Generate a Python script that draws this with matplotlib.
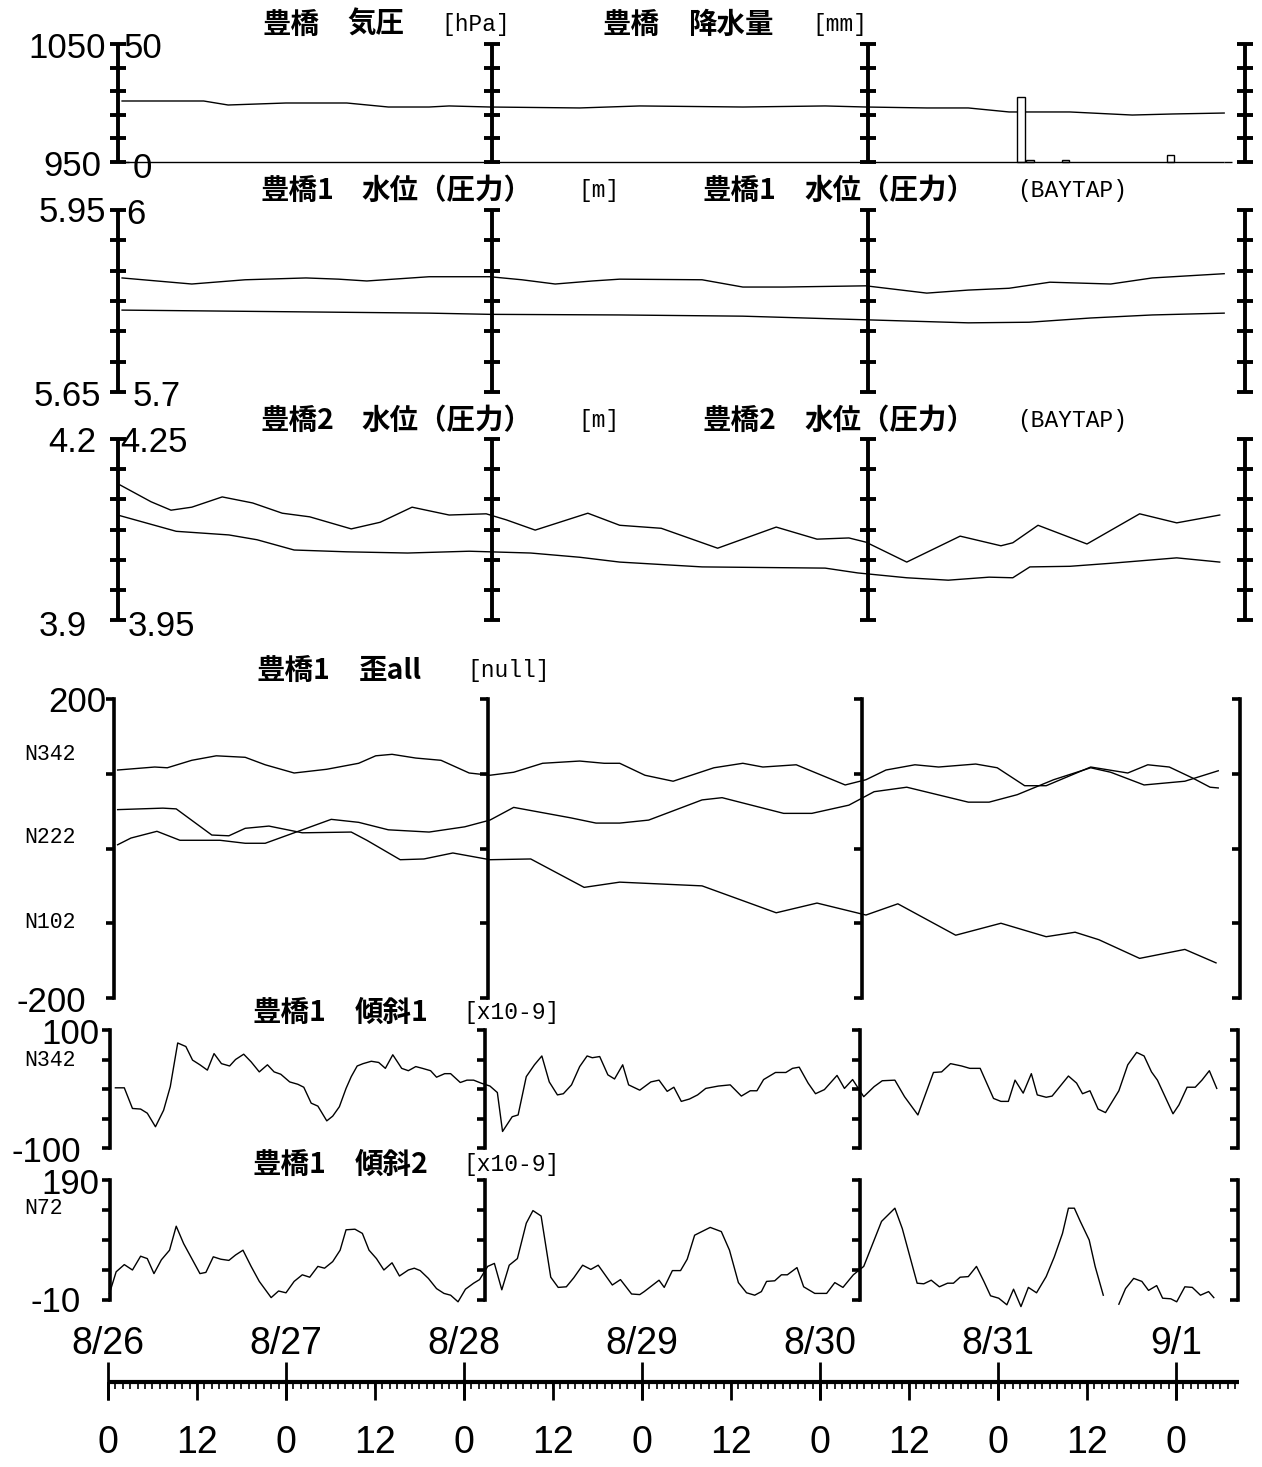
import matplotlib
matplotlib.use("Agg")
import matplotlib.pyplot as plt
import numpy as np

W, H = 1262, 1467
CJK = 'Noto Sans CJK JP'
MONO = 'Liberation Mono'
SANS = 'Liberation Sans'

# time in hours from 8/26 0:00
# 豊橋 気圧 [hPa]
pres_h = [1.9, 12.9, 16.2, 24.0, 32.2, 37.8, 43.3, 46.0, 51.5, 63.6, 71.7, 85.6, 96.7,
          102.2, 110.4, 116.0, 121.5, 129.7, 138.1, 143.6, 150.5]
pres = [1001.7, 1001.7, 998.3, 1000.0, 1000.0, 996.6, 996.6, 997.5, 996.6, 995.8, 997.5,
        996.6, 997.5, 996.6, 995.8, 995.8, 992.4, 992.4, 989.8, 990.7, 991.5]

# 豊橋 降水量 [mm]
rain_h = [1.9, 122.6, 123.8, 128.6, 142.8, 150.5]
rain = [0, 27.5, 1, 0.7, 3, 0]

# 豊橋1 水位（圧力） [m] / (BAYTAP)
wl1_h = [1.9, 11.3, 18.5, 26.7, 31.1, 34.9, 43.3, 51.5, 55.8, 60.3, 65.3, 69.0, 80.1,
         85.6, 91.1, 102.2, 110.4, 116.0, 121.5, 127.0, 135.2, 140.8, 150.5]
wl1 = [5.838, 5.828, 5.835, 5.838, 5.836, 5.833, 5.840, 5.840, 5.835, 5.828, 5.833, 5.836,
       5.835, 5.823, 5.823, 5.825, 5.813, 5.818, 5.821, 5.831, 5.828, 5.838, 5.845]
wl1b_h = [1.9, 18.5, 43.3, 51.5, 69.0, 85.6, 102.2, 116.0, 124.2, 132.5, 140.8, 150.5]
wl1b = [5.835, 5.833, 5.830, 5.828, 5.827, 5.825, 5.819, 5.814, 5.815, 5.822, 5.827, 5.830]

# 豊橋2 水位（圧力） [m] / (BAYTAP)
wl2_h = [1.6, 5.8, 8.5, 11.3, 15.4, 19.5, 23.5, 27.2, 32.8, 36.7, 41.0, 46.0, 51.0, 53.7,
         57.6, 64.7, 69.0, 74.6, 82.2, 90.1, 95.6, 99.9, 102.2, 107.7, 114.9, 120.4, 122.0,
         125.4, 132.0, 139.1, 144.1, 149.9]
wl2 = [4.124, 4.096, 4.082, 4.087, 4.104, 4.094, 4.077, 4.071, 4.051, 4.062, 4.087, 4.074,
       4.076, 4.066, 4.049, 4.077, 4.057, 4.052, 4.019, 4.054, 4.034, 4.036, 4.029, 3.996,
       4.039, 4.023, 4.028, 4.057, 4.026, 4.076, 4.061, 4.074]
wl2b_h = [1.3, 9.2, 16.3, 20.1, 25.1, 32.2, 40.4, 48.7, 57.0, 63.6, 69.0, 80.1, 96.7, 101.1,
          107.7, 113.3, 118.8, 122.0, 124.3, 129.7, 135.2, 144.1, 149.9]
wl2b = [4.124, 4.097, 4.091, 4.083, 4.066, 4.063, 4.061, 4.064, 4.061, 4.054, 4.046, 4.038,
        4.036, 4.028, 4.020, 4.016, 4.021, 4.020, 4.038, 4.039, 4.044, 4.053, 4.046]

# 豊橋1 歪all
sa_h = [1.3, 6.3, 8.0, 11.3, 14.6, 18.5, 21.2, 25.1, 29.5, 33.8, 36.1, 38.3, 41.5, 44.9,
        48.7, 51.5, 54.7, 58.6, 63.6, 66.9, 69.0, 72.4, 76.2, 81.7, 85.6, 88.3, 92.8, 99.4,
        102.2, 104.9, 108.8, 112.0, 117.0, 119.9, 123.6, 126.5, 132.5, 137.5, 140.2, 143.1,
        146.3, 148.6, 149.7]
sa = [105, 109, 108, 118, 124, 122, 112, 101, 106, 114, 124, 126, 121, 118, 101, 98, 102,
      114, 117, 114, 114, 98, 90, 108, 114, 109, 112, 85, 92, 105, 112, 109, 113, 108, 84,
      84, 109, 101, 112, 109, 94, 82, 81]
sb_h = [1.3, 7.4, 9.2, 14.0, 16.3, 18.5, 21.7, 26.2, 32.8, 34.9, 39.4, 42.6, 46.5, 51.5,
        57.0, 64.2, 69.0, 80.1, 90.1, 95.6, 102.2, 106.5, 114.3, 120.4, 126.5, 130.4, 133.6,
        139.1, 145.2, 149.4]
sb = [52, 54, 53, 18, 17, 27, 30, 21, 22, 11, -15, -14, -6, -15, -14, -52, -45, -50, -86,
      -73, -89, -74, -116, -100, -118, -112, -122, -147, -135, -153]
sc_h = [1.3, 3.1, 6.6, 9.7, 15.1, 18.5, 21.2, 25.1, 30.1, 33.8, 37.8, 43.3, 48.1, 51.5,
        54.7, 62.4, 65.8, 69.0, 72.9, 80.1, 82.8, 91.1, 94.9, 99.9, 103.3, 107.7, 116.0,
        118.8, 122.6, 127.5, 132.5, 135.2, 139.7, 145.2, 149.7]
sc = [5, 14, 23, 11, 11, 7, 7, 21, 39, 35, 25, 22, 29, 38, 55, 41, 34, 34, 38, 65, 68, 47,
      47, 58, 76, 82, 62, 62, 72, 92, 108, 102, 85, 90, 104]

# 豊橋1 傾斜1 [x10-9]
t1_h = [1.0, 2.2, 3.3, 4.4, 5.3, 6.4, 7.5, 8.4, 9.4, 10.5, 11.4, 12.4, 13.4, 14.3, 15.3,
        16.4, 17.2, 18.3, 19.3, 20.4, 21.5, 22.4, 23.3, 24.5, 25.6, 26.4, 27.4, 28.3, 29.5,
        30.3, 31.2, 32.1, 32.8, 33.6, 34.4, 35.5, 36.5, 37.4, 38.4, 39.6, 40.5, 41.5, 42.4,
        43.5, 44.3, 45.4, 46.2, 47.5, 48.4, 49.3, 50.3, 51.5, 52.5, 53.2, 54.5, 55.3, 56.4,
        57.5, 58.5, 59.5, 60.6, 61.4, 62.5, 63.6, 64.6, 65.3, 66.3, 67.4, 68.3, 69.4, 70.2,
        71.7, 73.2, 74.3, 75.4, 76.3, 77.3, 78.4, 79.5, 80.6, 82.3, 83.9, 85.4, 86.6, 87.5,
        88.4, 90.0, 91.4, 92.3, 93.2, 94.4, 95.4, 96.6, 98.3, 99.3, 100.4, 101.9, 103.3,
        104.4, 106.1, 107.4, 109.2, 111.3, 112.4, 113.6, 115.1, 116.2, 117.6, 119.4, 120.4,
        121.4, 122.3, 123.4, 124.5, 125.3, 126.5, 127.3, 128.4, 129.5, 130.6, 131.4, 132.4,
        133.5, 134.5, 136.3, 137.5, 138.7, 139.7, 140.7, 141.5, 143.6, 144.4, 145.5, 146.6,
        147.5, 148.5, 149.5]
t1 = [2, 2, -33, -34, -41, -64, -36, 4, 78, 72, 49, 41, 32, 60, 43, 39, 50, 59, 46, 29,
      41, 29, 25, 12, 8, 3, -24, -29, -54, -46, -30, 1, 21, 39, 43, 47, 45, 35, 58, 35,
      31, 38, 35, 31, 20, 26, 26, 11, 15, 15, 10, 5, -6, -72, -47, -44, 21, 41, 56, 12,
      -10, -8, 7, 38, 56, 53, 55, 24, 17, 41, 7, -2, 12, 15, -4, 3, -21, -17, -10, 1,
      5, 7, -12, -3, -3, 16, 28, 28, 35, 37, 10, -8, -1, 23, 1, 16, -13, 4, 14, 15,
      -13, -44, 28, 29, 43, 39, 35, 35, -16, -21, -21, 15, -7, 26, -10, -14, -12, 5, 22, 10,
      -8, -3, -34, -40, -3, 41, 62, 56, 29, 15, -42, -27, 3, 3, 15, 31, 1]

# 豊橋1 傾斜2 [x10-9]  (nan = missing)
t2_h = [0.2, 1.1, 2.2, 3.3, 4.4, 5.3, 6.2, 7.2, 8.3, 9.2, 10.2, 11.3, 12.4, 13.2, 14.2,
        15.2, 16.3, 17.2, 18.2, 19.3, 20.4, 22.0, 23.0, 24.0, 25.1, 26.2, 27.2, 28.3, 29.2,
        30.3, 31.3, 32.1, 33.3, 34.3, 35.2, 36.2, 37.2, 38.3, 39.3, 40.5, 41.3, 42.1, 43.2,
        44.3, 45.3, 46.2, 47.2, 48.2, 49.3, 50.1, 51.2, 52.1, 53.1, 54.1, 55.2, 56.4, 57.3,
        58.4, 59.7, 60.7, 61.8, 62.8, 64.0, 65.1, 66.1, 67.2, 68.0, 69.1, 70.6, 71.7, 72.3,
        74.3, 75.0, 76.1, 77.2, 78.1, 79.1, 81.2, 82.7, 83.8, 85.0, 86.1, 87.2, 88.1, 88.8,
        89.9, 90.8, 91.6, 92.9, 93.8, 95.3, 96.9, 98.0, 99.1, 100.5, 101.9, 104.3, 106.1,
        107.1, 108.0, 109.1, 110.0, 111.0, 112.1, 113.2, 114.0, 114.9, 116.0, 117.1, 118.1,
        119.0, 120.1, 121.2, 122.1, 123.1, 124.1, 125.2, 126.5, 127.6, 128.7, 129.5, 130.3,
        131.1, 132.3, 133.1, 134.2, 135.2, 136.3, 137.2, 138.3, 139.4, 140.3, 141.4, 142.2,
        143.3, 144.1, 145.2, 146.2, 147.3, 148.4, 149.1]
t2 = [1, 37, 49, 40, 63, 59, 34, 57, 73, 113, 84, 59, 34, 36, 62, 58, 56, 65, 73, 46,
      21, -6, 5, 2, 21, 32, 28, 46, 43, 54, 73, 107, 108, 101, 73, 59, 40, 52, 30, 40,
      43, 39, 26, 9, 1, -2, -13, 8, 18, 24, 46, 51, 7, 48, 59, 118, 139, 130, 28, 11,
      12, 27, 48, 41, 48, 29, 15, 24, 0, -1, 4, 23, 11, 39, 39, 58, 98, 111, 104, 73,
      19, 2, -2, 4, 21, 22, 32, 32, 44, 12, 1, 1, 19, 11, 32, 46, 121, 143, 109, 68,
      18, 17, 23, 12, 18, 18, 28, 29, 46, 21, -3, -7, -18, 8, -21, 11, 2, 29, 62, 101,
      143, 143, 121, 90, 46, -2, np.nan, -17, 9, 26, 21, 6, 14, -7, -8, -13, 12, 11, -2, 4,
      -6]

day_h = [0, 24, 48, 72, 96, 120, 144]
day_labels = ['8/26', '8/27', '8/28', '8/29', '8/30', '8/31', '9/1']
hour_h = [0, 12, 24, 36, 48, 60, 72, 84, 96, 108, 120, 132, 144]
hour_labels = ['0', '12', '0', '12', '0', '12', '0', '12', '0', '12', '0', '12', '0']

fig = plt.figure(figsize=(W / 100, H / 100), dpi=100)
XL = (-14.56, 155.6)
LW = 1.0
CFS = 20.5   # CJK title size
MFS = 16.5   # mono title size


def pax(top, bot, ylim):
    ax = fig.add_axes([0, 1 - bot / H, 1, (bot - top) / H])
    ax.set_xlim(*XL)
    ax.set_ylim(*ylim)
    ax.set_axis_off()
    return ax


def ftext(x, y, s, **kw):
    fig.text(x / W, 1 - y / H, s, **kw)


def ibars(ax, xs, n):
    lo, hi = ax.get_ylim()
    ticks = np.linspace(lo, hi, n)
    for x in xs:
        ax.plot([x, x], [lo, hi], color='k', lw=2.8, solid_capstyle='butt', clip_on=False)
        ax.plot([x] * n, ticks, ls='none', marker='_', ms=11, mew=2.8, color='k', clip_on=False)


def rbars(ax, xs, n):
    lo, hi = ax.get_ylim()
    ticks = np.linspace(lo, hi, n)
    for x in xs:
        ax.plot([x, x], [lo, hi], color='k', lw=2.6, solid_capstyle='projecting', clip_on=False)
        ax.plot([x] * n, ticks, ls='none', marker=0, ms=6, mew=2.6, color='k', clip_on=False)


def title(y, parts):
    for x, s, fam in parts:
        cjk = fam == CJK
        ftext(x, y, s, family=fam, fontsize=CFS if cjk else MFS, va='center', ha='left',
              weight='bold' if cjk else 'normal')


def num(x, y, s, ha, fs=25):
    ftext(x, y, s, family=SANS, fontsize=fs, va='center', ha=ha)


def nlab(y, s):
    ftext(24, y, s, family=MONO, fontsize=15.5, va='center', ha='left')


# panel 1: pressure + rain
ax1 = pax(44, 162, (950, 1050))
ax1b = pax(44, 162, (0, 50))
ax1.plot(pres_h, pres, color='k', lw=LW)
ax1b.bar(rain_h, rain, width=1.0, align='edge', facecolor='white', edgecolor='k', lw=1.0,
         clip_on=False)
ax1b.hlines(0, rain_h[0], rain_h[-1], color='k', lw=LW, clip_on=False)
ibars(ax1, [1.3, 51.8, 102.5, 153.3], 6)
title(25, [(262, '豊橋', CJK), (347, '気圧', CJK), (441, '[hPa]', MONO),
           (602, '豊橋', CJK), (689, '降水量', CJK), (812, '[mm]', MONO)])
num(106, 48, '1050', 'right'); num(124, 48, '50', 'left')
num(101, 166, '950', 'right'); num(133, 168, '0', 'left')

# panel 2: water level 1
ax2 = pax(210, 392, (5.65, 5.95))
ax2b = pax(210, 392, (5.7, 6.0))
ax2.plot(wl1_h, wl1, color='k', lw=LW)
ax2b.plot(wl1b_h, wl1b, color='k', lw=LW)
ibars(ax2, [1.3, 51.8, 102.5, 153.3], 7)
title(191, [(260, '豊橋1', CJK), (361, '水位（圧力）', CJK), (578, '[m]', MONO),
            (703, '豊橋1', CJK), (804, '水位（圧力）', CJK), (1017, '(BAYTAP)', MONO)])
num(106, 213, '5.95', 'right'); num(126, 215, '6', 'left')
num(101, 397, '5.65', 'right'); num(133, 397, '5.7', 'left')

# panel 3: water level 2
ax3 = pax(439, 620, (3.9, 4.2))
ax3b = pax(439, 620, (3.95, 4.25))
ax3.plot(wl2_h, wl2, color='k', lw=LW)
ax3b.plot(wl2b_h, wl2b, color='k', lw=LW)
ibars(ax3, [1.3, 51.8, 102.5, 153.3], 7)
title(421, [(260, '豊橋2', CJK), (361, '水位（圧力）', CJK), (578, '[m]', MONO),
            (703, '豊橋2', CJK), (804, '水位（圧力）', CJK), (1017, '(BAYTAP)', MONO)])
num(96, 442, '4.2', 'right'); num(120, 442, '4.25', 'left')
num(87, 627, '3.9', 'right'); num(128, 627, '3.95', 'left')

# panel 4: strain
ax4 = pax(699, 998, (-200, 200))
for hh, vv in [(sa_h, sa), (sb_h, sb), (sc_h, sc)]:
    ax4.plot(hh, vv, color='k', lw=LW, clip_on=False)
rbars(ax4, [0.8, 51.2, 101.7, 152.6], 5)
title(671, [(256, '豊橋1', CJK), (359, '歪all', CJK), (467, '[null]', MONO)])
num(106, 703, '200', 'right'); num(86, 1002, '-200', 'right')
for y, s in [(755, 'N342'), (838, 'N222'), (922, 'N102')]:
    nlab(y, s)

# panel 5: tilt 1
ax5 = pax(1030, 1148, (-100, 100))
ax5.plot(t1_h, t1, color='k', lw=LW, clip_on=False)
rbars(ax5, [0.3, 50.8, 101.4, 152.3], 5)
title(1013, [(253, '豊橋1', CJK), (355, '傾斜1', CJK), (463, '[x10-9]', MONO)])
num(99, 1035, '100', 'right'); num(81, 1153, '-100', 'right')
nlab(1061, 'N342')

# panel 6: tilt 2
ax6 = pax(1180, 1300, (-10, 190))
ax6.plot(t2_h, t2, color='k', lw=LW, clip_on=False)
rbars(ax6, [0.3, 50.8, 101.4, 152.3], 5)
title(1165, [(253, '豊橋1', CJK), (355, '傾斜2', CJK), (463, '[x10-9]', MONO)])
num(99, 1184, '190', 'right'); num(81, 1303, '-10', 'right')
nlab(1209, 'N72')

# time axis
axt = fig.add_axes([0, 1 - 1402 / H, 1, 40 / H])
axt.set_xlim(*XL)
axt.set_ylim(-1, 1)
axt.set_axis_off()
axt.hlines(0, 0, 152.5, color='k', lw=3)
axt.vlines(np.arange(0, 153), -0.35, 0, color='k', lw=1.2)
axt.vlines(hour_h, -0.9, 0, color='k', lw=2)
axt.vlines(day_h, -0.9, 1.0, color='k', lw=2)
for h, lab in zip(day_h, day_labels):
    axt.text(h, 1.9, lab, ha='center', va='center', fontsize=27, family=SANS)
for h, lab in zip(hour_h, hour_labels):
    axt.text(h, -3.05, lab, ha='center', va='center', fontsize=27, family=SANS)

fig.savefig('out.png', dpi=100)
